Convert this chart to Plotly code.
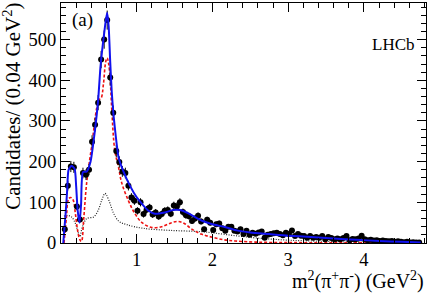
import numpy as np
import plotly.graph_objects as go

# ---- data ----
bin_x = [round(0.05 + 0.04 * i, 3) for i in range(118)]
counts = [34, 141, 188, 186, 90, 58, 172, 168, 180, 249, 291, 345, 451, 500, 548, 407,
          320, 226, 199, 176, 172, 141, 112, 104, 79, 100, 71, 82, 87, 70,
          75, 65, 71, 79, 81, 72, 92, 90, 100, 76, 68, 66, 54, 60, 67, 53,
          34, 57, 50, 32, 46, 48, 36, 30, 40, 40, 30, 28, 34, 22, 30, 20,
          25, 23, 26, 28, 13, 20, 22, 24, 25, 22, 19, 25, 22, 31, 17, 22,
          18, 17, 13, 17, 13, 15, 13, 17, 9, 15, 12, 9, 11, 9, 12, 17,
          7, 10, 9, 11, 18, 9, 7, 8, 6, 7, 5, 6, 5, 4, 5, 3, 4, 3, 2, 3, 1, 2, 1, 1]

fit_x = [0.03, 0.06, 0.08, 0.10, 0.14, 0.18, 0.20, 0.22, 0.245, 0.265, 0.29, 0.34, 0.39,
         0.45, 0.49, 0.52, 0.54, 0.56, 0.59, 0.61, 0.63, 0.65, 0.67, 0.69, 0.71, 0.76,
         0.82, 0.91, 1.00, 1.07, 1.15, 1.24, 1.37, 1.48, 1.57, 1.66, 1.75, 1.87, 2.00,
         2.15, 2.32, 2.50, 2.75, 3.00, 3.30, 3.60, 3.90, 4.20, 4.50, 4.75]
fit_y = [0, 70, 125, 180, 190, 182, 140, 80, 50, 95, 174, 176, 200,
         280, 350, 430, 468, 500, 545, 566, 530, 445, 372, 322, 285, 211,
         178, 141, 112, 96, 80, 72, 75, 81, 81, 75, 66, 54, 46,
         40, 31, 26, 22, 18, 15, 11, 8, 5, 3, 1]

sig_x = [0.04, 0.07, 0.10, 0.13, 0.16, 0.19, 0.22, 0.25, 0.27, 0.30, 0.34, 0.41, 0.47,
         0.50, 0.53, 0.56, 0.59, 0.61, 0.63, 0.65, 0.67, 0.71, 0.76, 0.80, 0.89, 0.98,
         1.07, 1.20, 1.33, 1.46, 1.55, 1.63, 1.72, 1.85, 2.00, 2.15, 2.30, 2.60, 3.00,
         3.50, 4.00, 4.75]
sig_y = [0, 60, 108, 112, 106, 72, 30, 8, 4, 60, 150, 245, 330,
         352, 356, 390, 445, 455, 440, 401, 330, 228, 186, 149, 104, 71,
         50, 38, 40, 50, 53, 48, 35, 22, 14, 8, 5, 2, 1,
         0.5, 0.3, 0]

bkg_x = [0.04, 0.08, 0.14, 0.19, 0.22, 0.25, 0.28, 0.34, 0.43, 0.49, 0.54, 0.58, 0.60,
         0.65, 0.69, 0.76, 0.87, 1.09, 1.44, 1.84, 2.00, 2.30, 2.60, 3.00, 3.50, 4.00, 4.75]
bkg_y = [66, 68, 64, 48, 30, 16, 38, 60, 64, 80, 106, 122, 118,
         96, 75, 54, 45, 36, 31, 28, 25, 18, 12, 7, 4, 2, 0.5]

xtick_vals = [1, 2, 3, 4]
ytick_vals = [0, 100, 200, 300, 400, 500]

errs = [max(np.sqrt(c), 1.0) for c in counts]

FONT = "Liberation Serif"

fig = go.Figure()
fig.add_trace(go.Scatter(x=bkg_x, y=bkg_y, mode="lines", line=dict(color="#222222", width=1.2, dash="1px,1.5px", shape="spline"), showlegend=False))
fig.add_trace(go.Scatter(x=sig_x, y=sig_y, mode="lines", line=dict(color="#ee1111", width=1.6, dash="3px,2px", shape="spline"), showlegend=False))
fig.add_trace(go.Scatter(x=bin_x, y=counts, mode="markers",
                         marker=dict(color="black", size=6),
                         error_y=dict(type="data", array=errs, color="black", thickness=1, width=0),
                         showlegend=False))
fig.add_trace(go.Scatter(x=fit_x, y=fit_y, mode="lines", line=dict(color="#1111ee", width=2, shape="spline", smoothing=0.6), showlegend=False))

axis_common = dict(showgrid=False, zeroline=False, showline=True, linecolor="black", linewidth=1,
                   mirror="allticks", ticks="inside", ticklen=9, tickcolor="black", tickwidth=1,
                   automargin=False,
                   tickfont=dict(family=FONT, size=18.5, color="black"))

fig.update_xaxes(range=[0, 4.82], tickvals=xtick_vals, ticktext=[str(v) for v in xtick_vals],
                 minor=dict(ticks="inside", ticklen=5, dtick=0.2, tick0=0, tickcolor="black"),
                 **axis_common)
fig.update_yaxes(range=[0, 590], tickvals=ytick_vals, ticktext=[str(v) for v in ytick_vals],
                 minor=dict(ticks="inside", ticklen=5, dtick=20, tick0=0, tickcolor="black"),
                 **axis_common)

fig.add_annotation(text="Candidates/ (0.04 GeV<sup>2</sup>)", textangle=-90, xref="paper", yref="paper",
                   x=-0.135, y=1.01, xanchor="center", yanchor="top", showarrow=False,
                   font=dict(family=FONT, size=21, color="black"))
fig.add_annotation(text="m<sup>2</sup>(π<sup>+</sup>π<sup>-</sup>) (GeV<sup>2</sup>)", xref="paper", yref="paper",
                   x=1.0, y=-0.095, xanchor="right", yanchor="top", showarrow=False,
                   font=dict(family=FONT, size=20, color="black"))
fig.add_annotation(text="(a)", xref="paper", yref="paper", x=0.025, y=0.985, xanchor="left", yanchor="top",
                   showarrow=False, font=dict(family=FONT, size=19, color="black"))
fig.add_annotation(text="LHCb", xref="paper", yref="paper", x=0.975, y=0.875, xanchor="right", yanchor="top",
                   showarrow=False, font=dict(family=FONT, size=17, color="black"))

fig.update_layout(width=436, height=293, margin=dict(l=61, r=10, t=3, b=50, autoexpand=False),
                  paper_bgcolor="white", plot_bgcolor="white")

fig.write_html("out.html", config={"displayModeBar": False},
               post_script="document.body.style.margin='0';document.body.style.overflow='hidden';")
